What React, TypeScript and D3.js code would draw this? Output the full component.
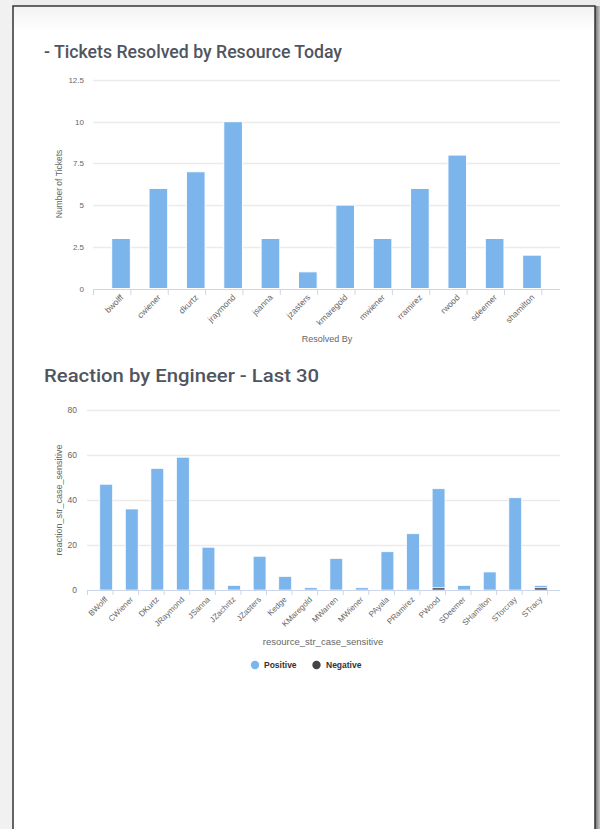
import React from "react";
import * as d3 from "d3";

const resolvedBy = ["bwolff", "cwiener", "dkurtz", "jraymond", "jsanna", "jzasters", "kmaregold", "mwiener", "rramirez", "rwood", "sdeemer", "shamilton"];
const ticketsResolved = [3, 6, 7, 10, 3, 1, 5, 3, 6, 8, 3, 2];
const ticketTicks = [0, 2.5, 5, 7.5, 10, 12.5];

const engineers = ["BWolff", "CWiener", "DKurtz", "JRaymond", "JSanna", "JZachritz", "JZasters", "Kedge", "KMaregold", "MWarren", "MWiener", "PAyala", "PRamirez", "PWood", "SDeemer", "SHamilton", "STorcray", "STracy"];
const positive = [47, 36, 54, 59, 19, 2, 15, 6, 1, 14, 1, 17, 25, 44, 2, 8, 41, 1];
const negative = [0, 0, 0, 0, 0, 0, 0, 0, 0, 0, 0, 0, 0, 1, 0, 0, 0, 1];
const reactionTicks = [0, 20, 40, 60, 80];

const FONT = "'Liberation Sans', Arial, sans-serif";
const TFONT = "Roboto, 'Liberation Sans', sans-serif";
const BLUE = "#7cb5ec";
const DARK = "#434348";
const GRID = "#ebebeb";
const AXIS = "#ccd6eb";
const LABEL = "#666666";
const TITLE = "#50555f";

function TicketsChart() {
  const x = d3.scaleBand<string>().domain(resolvedBy).range([93, 560]).padding(0.5);
  const y = d3.scaleLinear().domain([0, 12.5]).range([288.5, 80]);
  const step = x.step();
  const left = 93;
  return (
    <g>
      <text x={44} y={58} fontFamily={TFONT} fontWeight={500} fontSize={18} fill={TITLE} textLength={298} lengthAdjust="spacingAndGlyphs">- Tickets Resolved by Resource Today</text>
      {ticketTicks.map((t) => (
        <g key={t}>
          {t > 0 && <line x1={left} x2={560} y1={Math.round(y(t)) + 0.5} y2={Math.round(y(t)) + 0.5} stroke={GRID} strokeWidth={1.5} />}
          <text x={84} y={y(t) + 3} textAnchor="end" fontFamily={FONT} fontSize={8} fill={LABEL}>{t}</text>
        </g>
      ))}
      <text transform={`translate(62,184) rotate(-90)`} textAnchor="middle" fontFamily={FONT} fontSize={8.5} fill={LABEL}>Number of Tickets</text>
      {resolvedBy.map((n, i) => (
        <rect key={n} x={x(n)} y={y(ticketsResolved[i])} width={x.bandwidth()} height={y(0) - y(ticketsResolved[i])} fill={BLUE} stroke="#fff" strokeWidth={1} />
      ))}
      <line x1={left} x2={560} y1={289.5} y2={289.5} stroke={AXIS} strokeWidth={1} />
      {d3.range(resolvedBy.length + 1).map((i) => (
        <line key={i} x1={left + i * step + 0.5} x2={left + i * step + 0.5} y1={289} y2={295} stroke={AXIS} strokeWidth={1} />
      ))}
      {resolvedBy.map((n) => {
        const cx = (x(n) as number) + x.bandwidth() / 2;
        return (
          <text key={n} transform={`translate(${cx + 3},${298}) rotate(-45)`} textAnchor="end" fontFamily={FONT} fontSize={8.5} fill={LABEL}>{n}</text>
        );
      })}
      <text x={327} y={342} textAnchor="middle" fontFamily={FONT} fontSize={9} fill={LABEL}>Resolved By</text>
    </g>
  );
}

function ReactionChart() {
  const x = d3.scaleBand<string>().domain(engineers).range([87, 560]).padding(0.5);
  const y = d3.scaleLinear().domain([0, 80]).range([590, 410]);
  const step = x.step();
  const left = 87;
  const rows = engineers.map((name, i) => ({ name, Negative: negative[i], Positive: positive[i] }));
  const stack = d3.stack<any>().keys(["Negative", "Positive"])(rows);
  const colors: Record<string, string> = { Negative: DARK, Positive: BLUE };
  return (
    <g>
      <text x={44} y={382} fontFamily={TFONT} fontWeight={500} fontSize={17.5} fill={TITLE} textLength={275} lengthAdjust="spacingAndGlyphs">Reaction by Engineer - Last 30</text>
      {reactionTicks.map((t) => (
        <g key={t}>
          {t > 0 && <line x1={left} x2={560} y1={Math.round(y(t)) + 0.5} y2={Math.round(y(t)) + 0.5} stroke={GRID} strokeWidth={1.5} />}
          <text x={77} y={y(t) + 3} textAnchor="end" fontFamily={FONT} fontSize={8.5} fill={LABEL}>{t}</text>
        </g>
      ))}
      <text transform={`translate(62,500) rotate(-90)`} textAnchor="middle" fontFamily={FONT} fontSize={9} fill={LABEL}>reaction_str_case_sensitive</text>
      {stack.map((layer) => (
        <g key={layer.key}>
          {layer.map((d, i) => {
            const h = y(d[0]) - y(d[1]);
            if (h <= 0) return null;
            return (
              <rect key={i} x={x(engineers[i])} y={y(d[1])} width={x.bandwidth()} height={h} fill={colors[layer.key]} stroke="#fff" strokeWidth={0.7} />
            );
          })}
        </g>
      ))}
      <line x1={left} x2={560} y1={590.5} y2={590.5} stroke={AXIS} strokeWidth={1} />
      {d3.range(engineers.length + 1).map((i) => (
        <line key={i} x1={left + i * step + 0.5} x2={left + i * step + 0.5} y1={590} y2={595} stroke={AXIS} strokeWidth={1} />
      ))}
      {engineers.map((n) => {
        const cx = (x(n) as number) + x.bandwidth() / 2;
        return (
          <text key={n} transform={`translate(${cx + 2},${600}) rotate(-45)`} textAnchor="end" fontFamily={FONT} fontSize={8} fill={LABEL}>{n}</text>
        );
      })}
      <text x={323} y={645} textAnchor="middle" fontFamily={FONT} fontSize={9.5} fill={LABEL}>resource_str_case_sensitive</text>
      <circle cx={255} cy={665} r={4.2} fill={BLUE} />
      <text x={264} y={668} fontFamily={FONT} fontWeight={700} fontSize={8.5} fill="#333">Positive</text>
      <circle cx={316.5} cy={665} r={4.2} fill={DARK} />
      <text x={326} y={668} fontFamily={FONT} fontWeight={700} fontSize={8.5} fill="#333">Negative</text>
    </g>
  );
}

export default function App() {
  return (
    <div style={{ position: "absolute", left: 0, top: 0 }}>
      <svg width={600} height={829} style={{ display: "block" }}>
        <defs>
          <linearGradient id="topfade" x1="0" y1="0" x2="0" y2="1">
            <stop offset="0" stopColor="#f3f3f3" />
            <stop offset="1" stopColor="#ffffff" />
          </linearGradient>
          <linearGradient id="rightshade" x1="0" y1="0" x2="1" y2="0">
            <stop offset="0" stopColor="#6f6f6f" />
            <stop offset="1" stopColor="#c8c8c8" />
          </linearGradient>
        </defs>
        <rect x={0} y={0} width={600} height={829} fill="#ececec" />
        <rect x={0} y={0} width={13} height={829} fill="#f1f1f1" />
        <rect x={595} y={6} width={5} height={823} fill="url(#rightshade)" />
        <rect x={13} y={6} width={582} height={830} fill="#ffffff" stroke="#333" strokeWidth={1.5} />
        <rect x={14} y={7} width={580} height={25} fill="url(#topfade)" />
        <TicketsChart />
        <ReactionChart />
      </svg>
    </div>
  );
}
